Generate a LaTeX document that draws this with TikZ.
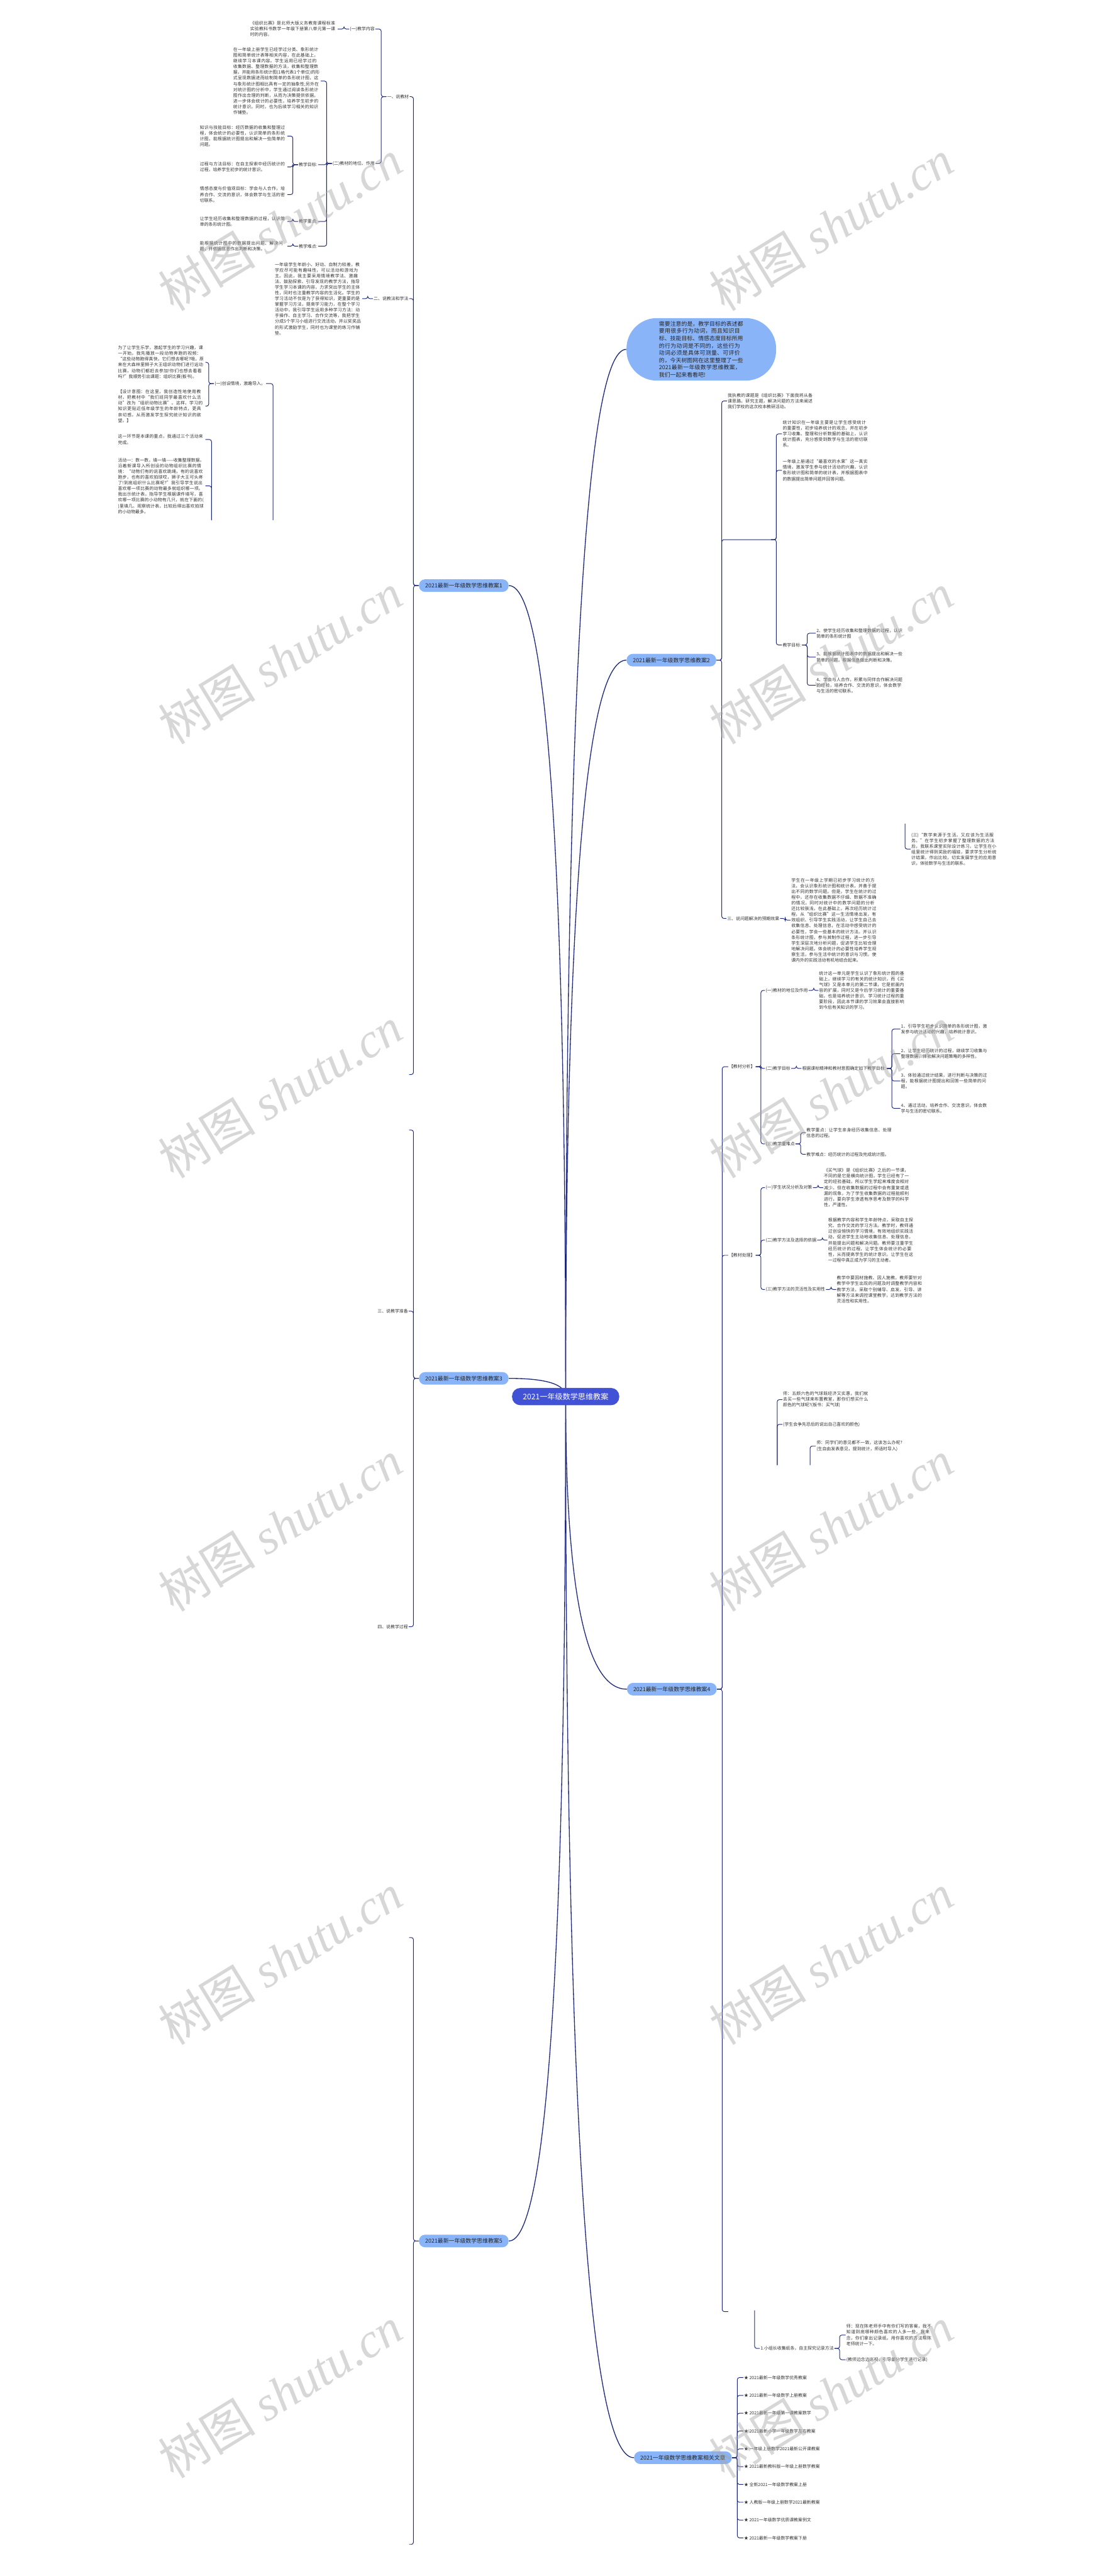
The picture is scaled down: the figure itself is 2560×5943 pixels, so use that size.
\documentclass[tikz,border=0pt]{standalone}
\usepackage{fontspec}
\setmainfont{Noto Sans CJK SC}
\newfontfamily\wmserif{Liberation Serif}
\XeTeXlinebreaklocale "zh"
\XeTeXlinebreakskip = 0pt plus 0.5pt
\usetikzlibrary{positioning, calc}
\definecolor{linkblue}{RGB}{32,42,124}
\definecolor{topicblue}{RGB}{138,180,248}
\definecolor{rootblue}{RGB}{66,82,214}
\definecolor{inkgray}{RGB}{51,51,51}
\pgfdeclarelayer{bg}
\pgfsetlayers{bg,main}
\tikzset{
  txt/.style={text width=2cm, align=left, inner sep=0.01cm, font=\fontsize{2.85}{3.75}\selectfont, text=inkgray},
  lbl/.style={inner sep=0.01cm, font=\fontsize{2.85}{3.75}\selectfont, text=inkgray},
  topic/.style={fill=topicblue, rounded corners=0.14cm, minimum height=0.29cm, inner xsep=0.145cm, inner ysep=0.02cm, font=\fontsize{3.67}{4.2}\selectfont, text=black!85},
  notebox/.style={fill=topicblue, rounded corners=0.7cm, text width=1.95cm, align=left, inner xsep=0.75cm, inner ysep=0.07cm, font=\fontsize{3.66}{4.8}\selectfont, text=black!85},
  root/.style={fill=rootblue, rounded corners=0.19cm, minimum height=0.39cm, inner xsep=0.25cm, font=\fontsize{5}{6}\selectfont, text=white},
  conn/.style={draw=linkblue, line width=0.4pt, rounded corners=0.05cm},
  trunk/.style={draw=linkblue, line width=0.55pt},
  wmark/.style={rotate=31.5, text=black!35, text opacity=0.45, font=\fontsize{32}{32}\selectfont}
}
% left / right bracket links
\newcommand{\lk}[2]{\begin{pgfonlayer}{bg}\draw[conn] (#1.west) -- ++(-12,0) |- (#2);\end{pgfonlayer}}
\newcommand{\rk}[2]{\begin{pgfonlayer}{bg}\draw[conn] (#1.east) -- ++(12,0) |- (#2);\end{pgfonlayer}}
% bracket piece from a bare junction point
\newcommand{\jn}[2]{\begin{pgfonlayer}{bg}\draw[conn] (#1) |- (#2);\end{pgfonlayer}}
% curved trunk from the root to a topic anchor
\newcommand{\trunkto}[1]{\begin{pgfonlayer}{bg}\draw[trunk] (cen.center)
  .. controls ($(cen.center)!0.667!(cen.center |- #1)$) and ($(#1)!0.667!(cen.center |- #1)$) .. (#1);\end{pgfonlayer}}

\begin{document}
\begin{tikzpicture}[x=0.01cm, y=-0.01cm]
\useasboundingbox (0,0) rectangle (2560,5943);

% root and main topics
\node[root] (cen) at (1305,3222) {2021一年级数学思维教案};
\node[notebox] (note) at (1618,806)
  {需要注意的是，教学目标的表述都要用很多行为动词，而且知识目标、技能目标、情感态度目标所用的行为动词是不同的，这些行为动词必须是具体可测量、可评价的，今天树图网在这里整理了一些2021最新一年级数学思维教案，我们一起来看看吧!};
\node[topic] (ja1) at (1070,1351) {2021最新一年级数学思维教案1};
\node[topic] (ja2) at (1549,1523) {2021最新一年级数学思维教案2};
\node[topic] (ja3) at (1070,3180) {2021最新一年级数学思维教案3};
\node[topic] (ja4) at (1550,3897) {2021最新一年级数学思维教案4};
\node[topic] (ja5) at (1070,5170) {2021最新一年级数学思维教案5};
\node[topic, anchor=east] (rel) at (1689,5670) {2021一年级数学思维教案相关文章};

\trunkto{note.west} \trunkto{ja1.east} \trunkto{ja2.west} \trunkto{ja3.east}
\trunkto{ja4.west} \trunkto{ja5.east} \trunkto{rel.west}

% ---- 教案1
\coordinate (e1end) at (944,2479);
\node[lbl, anchor=east] (s1) at (945,223) {一、说教材};
\node[lbl, anchor=east] (s1a) at (866,67) {(一)教学内容};
\node[txt, anchor=east] (s1a1) at (779,67) {《组织比赛》是北师大版义务教育课程标准实验教科书数学一年级下册第八单元第一课时的内容。};
\node[lbl, anchor=east] (s1b) at (866,377) {(二)教材的地位、作用};
\node[txt, anchor=east] (s1b1) at (740,187) {在一年级上册学生已经学过分类、象形统计图和简单统计表等相关内容，在此基础上，继续学习本课内容。学生运用已经学过的收集数据、整理数据的方法，收集和整理数据，并能用条形统计图(1格代表1个单位)的形式呈现数据进而绘制简单的条形统计图，这与象形统计图相比具有一定的抽象性;另外在对统计图的分析中，学生通过阅读条形统计图作出合理的判断，从而为决策提供依据，进一步体会统计的必要性，培养学生初步的统计意识。同时，也为后续学习相关的知识作铺垫。};
\node[lbl, anchor=east] (s1b2) at (734,380) {教学目标:};
\node[txt, anchor=east] (s1b2a) at (663,314) {知识与技能目标：经历数据的收集和整理过程，体会统计的必要性，认识简单的条形统计图，能根据统计图提出和解决一些简单的问题。};
\node[txt, anchor=east] (s1b2b) at (663,385) {过程与方法目标：在自主探索中经历统计的过程，培养学生初步的统计意识。};
\node[txt, anchor=east] (s1b2c) at (663,449) {情感态度与价值观目标：学会与人合作，培养合作、交流的意识，体会数学与生活的密切联系。};
\node[lbl, anchor=east] (s1b3) at (734,511) {教学重点:};
\node[txt, anchor=east] (s1b3a) at (663,511) {让学生经历收集和整理数据的过程，认识简单的条形统计图。};
\node[lbl, anchor=east] (s1b4) at (734,568) {教学难点:};
\node[txt, anchor=east] (s1b4a) at (663,568) {能根据统计图中的数据提出问题、解决问题，并依据信息作出判断和决策。};
\node[lbl, anchor=east] (s2) at (944,689) {二、说教法和学法};
\node[txt, anchor=east] (s2a) at (836,689) {一年级学生年龄小、好动、自制力较差，教学应尽可能有趣味性，可以活动和游戏为主。因此，我主要采用情境教学法、激趣法、鼓励探索、引导发现的教学方法，指导学生学习本课的内容，力求突出学生的主体性，同时也注重教学内容的生活化。学生的学习活动不仅是为了获得知识，更重要的是掌握学习方法，提高学习能力，在整个学习活动中，我引导学生运用多种学习方法：动手操作、自主学习、合作交流等，我把学生分成5个学习小组进行交流活动，并以奖奖品的形式激励学生，同时也为课堂的练习作铺垫。};
\coordinate (jP) at (630,1200);
\node[lbl, anchor=east] (s3a) at (614,885) {(一)创设情境，激趣导入。};
\node[txt, anchor=east] (s3a1) at (474,836) {为了让学生乐学，激起学生的学习兴趣，课一开始，我先播放一段动物奔跑的视频：“这些动物跑得真快，它们想去哪呢?哦，原来在大森林里狮子大王组织动物们进行运动比赛，动物们都赶去参加!你们也想去看看吗?”我顺势引出课题：组织比赛(板书)。};
\node[txt, anchor=east] (s3a2) at (474,937) {【设计意图：在这里，我创造性地使用教材，把教材中“我们班同学最喜欢什么活动”改为“组织动物比赛”。这样，学习的知识更贴近低年级学生的年龄特点，更具亲切感，从而激发学生探究统计知识的欲望。】};
\coordinate (jQ) at (488,1200);
\node[txt, anchor=east] (s3b1) at (474,1014) {这一环节是本课的重点，我通过三个活动来完成。};
\node[txt, anchor=east] (s3b2) at (474,1121) {活动一：数一数，填一填——收集整理数据，沿着新课导入所创设的动物组织比赛的情境：“动物们有的说喜欢跳绳，有的说喜欢跑步，也有的喜欢拍球哎，狮子大王可头疼了!到底组织什么比赛呢?”我引导学生说出喜欢哪一项比赛的动物最多就组织哪一项。我出示统计表，指导学生根据课件填写，喜欢哪一项比赛的小动物有几只，就在下面的( )里填几。观察统计表，比较后得出喜欢拍球的小动物最多。};
\lk{ja1}{s1.east} \lk{ja1}{s2.east} \lk{ja1}{e1end}
\lk{s1}{s1a.east} \lk{s1}{s1b.east} \lk{s1a}{s1a1.east}
\lk{s1b}{s1b1.east} \lk{s1b}{s1b2.east} \lk{s1b}{s1b3.east} \lk{s1b}{s1b4.east}
\lk{s1b2}{s1b2a.east} \lk{s1b2}{s1b2b.east} \lk{s1b2}{s1b2c.east}
\lk{s1b3}{s1b3a.east} \lk{s1b4}{s1b4a.east}
\lk{s2}{s2a.east}
\jn{jP}{s3a.east} \lk{s3a}{s3a1.east} \lk{s3a}{s3a2.east}
\jn{jQ}{s3b1.east} \jn{jQ}{s3b2.east}

% ---- 教案2
\node[txt, anchor=west] (t1) at (1677,925) {我执教的课题是《组织比赛》下面我将从备课思路，研究主题，解决问题的方法来阐述我们学校的这次校本教研活动。};
\coordinate (jA) at (1779,1245);
\node[txt, anchor=west] (t2a) at (1804,1001) {统计知识在一年级主要是让学生感受统计的重要性，初步培养统计的观念，并在初步学习收集、整理和分析数据的基础上，认识统计图表，充分感受到数学与生活的密切联系。};
\node[txt, anchor=west] (t2b) at (1804,1085) {一年级上册通过“最喜欢的水果”这一真实情境，激发学生参与统计活动的兴趣，认识象形统计图和简单的统计表，并根据图表中的数据提出简单问题并回答问题。};
\node[lbl, anchor=west] (t2c) at (1804,1488) {教学目标:};
\node[txt, anchor=west] (t2c2) at (1882,1461) {2、使学生经历收集和整理数据的过程，认识简单的条形统计图};
\node[txt, anchor=west] (t2c3) at (1882,1516) {3、能根据统计图表中的数据提出和解决一些简单的问题。根据信息做出判断和决策。};
\node[txt, anchor=west] (t2c4) at (1882,1581) {4、学会与人合作，积累与同伴合作解决问题的经验，培养合作、交流的意识，体会数学与生活的密切联系。};
\coordinate (jZ) at (2088,1900);
\node[txt, anchor=west] (t2z) at (2101,1959) {(三)“数学来源于生活，又应该为生活服务。”在学生初步掌握了整理数据的方法后，我联系课堂实际设计练习，让学生在小组里统计得到奖励的福娃，要求学生分析统计结果，作出比较，切实发展学生的应用意识，体验数学与生活的联系。};
\node[lbl, anchor=west] (t3) at (1676,2119) {三、说问题解决的预期效果};
\node[txt, anchor=west] (t3a) at (1824,2123) {学生在一年级上学期已初步学习统计的方法，会认识象形统计图和统计表，并善于提出不同的数学问题。但是，学生在统计的过程中，还存在收集数据不仔细、数据不准确的情况，同时对统计中的数学问题的分析还比较肤浅，在此基础上，再次经历统计过程，从“组织比赛”这一生活情境出发，有效组织、引导学生实践活动，让学生自己去收集信息、处理信息，在活动中感受统计的必要性，学会一些基本的统计方法。并认识条形统计图，参与其制作过程，进一步引导学生深层次地分析问题，促进学生比较合理地解决问题。体会统计的必要性培养学生观察生活，参与生活中统计的意识与习惯。使课内外的实践活动有机地结合起来。};
\rk{ja2}{t1.west} \rk{ja2}{jA} \rk{ja2}{t3.west} \rk{t3}{t3a.west}
\begin{pgfonlayer}{bg}
\foreach \c in {t2a,t2b,t2c} \draw[conn] (jA) -- ++(12,0) |- (\c.west);
\end{pgfonlayer}
\rk{t2c}{t2c2.west} \rk{t2c}{t2c3.west} \rk{t2c}{t2c4.west}
\jn{jZ}{t2z.west}

% ---- 教案3
\coordinate (e3top) at (944,2607);
\node[lbl, anchor=east] (x3) at (943,3025) {三、说教学准备};
\node[lbl, anchor=east] (x4) at (943,3753) {四、说教学过程};
\lk{ja3}{e3top} \lk{ja3}{x3.east} \lk{ja3}{x4.east}

% ---- 教案4
\coordinate (e4end) at (1680,5333);
\node[lbl, anchor=west] (u1) at (1680,2461) {【教材分析】};
\node[lbl, anchor=west] (u1a) at (1765,2285) {(一)教材的地位及作用};
\node[txt, anchor=west] (u1a1) at (1888,2285) {统计这一单元是学生认识了象形统计图的基础上，继续学习的有关的统计知识，而《买气球》又是本单元的第二节课，它是前面内容的扩展，同时又是今后学习统计的重要基础，也是培养统计意识、学习统计过程的重要阶段，因此本节课的学习效果会直接影响到今后有关知识的学习。};
\node[lbl, anchor=west] (u1b) at (1765,2465) {(二)教学目标};
\node[lbl, anchor=west] (u1b1) at (1849,2465) {根据课标精神和教材意图确定如下教学目标:};
\node[txt, anchor=west] (u1b1a) at (2077,2374) {1、引导学生初步认识简单的条形统计图，激发参与统计活动的兴趣，培养统计意识。};
\node[txt, anchor=west] (u1b1b) at (2077,2431) {2、让学生经历统计的过程，继续学习收集与整理数据，体验解决问题策略的多样性。};
\node[txt, anchor=west] (u1b1c) at (2077,2494) {3、体验通过统计结果，进行判断与决策的过程，能根据统计图提出和回答一些简单的问题。};
\node[txt, anchor=west] (u1b1d) at (2077,2557) {4、通过活动，培养合作、交流意识，体会数学与生活的密切联系。};
\node[lbl, anchor=west] (u1c) at (1765,2639) {(三)教学重难点};
\node[txt, anchor=west] (u1c1) at (1859,2613) {教学重点：让学生亲身经历收集信息、处理信息的过程。};
\node[txt, anchor=west] (u1c2) at (1859,2663) {教学难点：经历统计的过程及完成统计图。};
\node[lbl, anchor=west] (u2) at (1680,2896) {【教材处理】};
\node[lbl, anchor=west] (u2a) at (1765,2740) {(一)学生状况分析及对策};
\node[txt, anchor=west] (u2a1) at (1899,2740) {《买气球》是《组织比赛》之后的一节课，不同的是它是横向统计图，学生已经有了一定的经验基础，所以学生学起来难度会相对减少。但在收集数据的过程中会有重复或遗漏的现象，为了学生收集数据的过程能顺利进行，要向学生渗透有序思考及数学的科学性，严谨性。};
\node[lbl, anchor=west] (u2b) at (1765,2861) {(二)教学方法及选择的依据};
\node[txt, anchor=west] (u2b1) at (1909,2861) {根据教学内容和学生年龄特点，采取自主探究、合作交流的学习方法。教学时，教师通过创设愉快的学习情境，有效地组织实践活动，促进学生主动地收集信息、处理信息，并能提出问题和解决问题。教师要注重学生经历统计的过程，让学生体会统计的必要性，从而提高学生的统计意识。让学生在这一过程中真正成为学习的主动者。};
\node[lbl, anchor=west] (u2c) at (1765,2975) {(三)教学方法的灵活性及实用性};
\node[txt, anchor=west] (u2c1) at (1929,2975) {教学中要因材施教、因人施教，教师要针对教学中学生出现的问题及时调整教学内容和教学方法，采取个别辅导、启发、引导、讲解等方法来调控课堂教学，达到教学方法的灵活性和实用性。};
\rk{ja4}{u1.west} \rk{ja4}{u2.west} \rk{ja4}{e4end}
\rk{u1}{u1a.west} \rk{u1}{u1b.west} \rk{u1}{u1c.west}
\rk{u1a}{u1a1.west} \rk{u1b}{u1b1.west}
\rk{u1b1}{u1b1a.west} \rk{u1b1}{u1b1b.west} \rk{u1b1}{u1b1c.west} \rk{u1b1}{u1b1d.west}
\rk{u1c}{u1c1.west} \rk{u1c}{u1c2.west}
\rk{u2}{u2a.west} \rk{u2}{u2b.west} \rk{u2}{u2c.west}
\rk{u2a}{u2a1.west} \rk{u2b}{u2b1.west} \rk{u2c}{u2c1.west}

\coordinate (jD) at (1793,3380);
\coordinate (jE) at (1869,3380);
\node[txt, anchor=west] (v1) at (1805,3229) {师：五颜六色的气球既经济又实惠，我们就去买一些气球来布置教室，那你们想买什么颜色的气球呢?(板书：买气球)};
\node[txt, anchor=west] (v2) at (1805,3286) {(学生会争先恐后的说出自己喜欢的颜色)};
\node[txt, anchor=west] (v3) at (1882,3336) {师：同学们的意见都不一致，这该怎么办呢?(生自由发表意见，提到统计，师适时导入)};
\jn{jD}{v1.west} \jn{jD}{v2.west} \jn{jE}{v3.west}

\coordinate (jW) at (1741,5330);
\node[lbl, anchor=west] (w1) at (1753,5418) {1.小组长收集纸条，自主探究记录方法};
\node[txt, anchor=west] (w1a) at (1951,5387) {师：现在陈老师手中有你们写的答案，我不知道到底哪种颜色喜欢的人多一些，我来念，你们拿出记录纸，用你喜欢的方法帮陈老师统计一下。};
\node[txt, anchor=west] (w1b) at (1951,5444) {(教师边念边巡视，引导部分学生进行记录)};
\jn{jW}{w1.west} \rk{w1}{w1a.west} \rk{w1}{w1b.west}

% ---- 教案5 bracket spine
\coordinate (e5top) at (944,4470);
\coordinate (e5end) at (944,5870);
\lk{ja5}{e5top} \lk{ja5}{e5end}

% ---- related articles
\foreach \t [count=\i] in {2021最新一年级数学优秀教案, 2021最新一年级数学上册教案, 2021最新一年级第一课教案数学,
  2021最新小学一年级数学左右教案, 一年级上册数学2021最新公开课教案, 2021最新教科版一年级上册数学教案,
  全新2021一年级数学教案上册, 人教版一年级上册数学2021最新教案, 2021一年级数学优质课教案例文, 2021最新一年级数学教案下册}
{
  \node[lbl, anchor=west] (r\i) at (1715,5444+41.1*\i) {\symbol{"2605} \t};
  \rk{rel}{r\i.west}
}

% watermark
\foreach \wx in {647,1918}
  \foreach \wy in {520,1520,2520,3520,4520,5520}
    \node[wmark] (wm\wx\wy) at (\wx,\wy) {树图 {\wmserif\itshape shutu.cn}};
\end{tikzpicture}
\end{document}
